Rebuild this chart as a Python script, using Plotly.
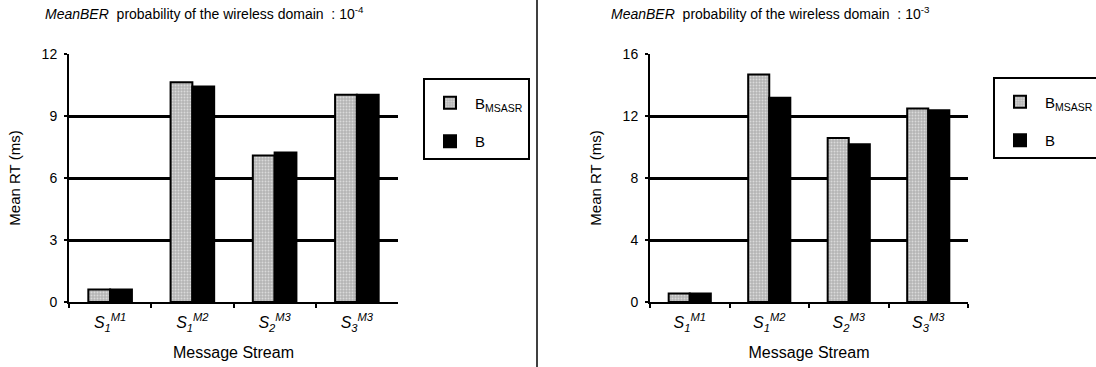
import plotly.graph_objects as go

# Message streams (categories) and their displayed tick labels
streams = ["S1M1", "S1M2", "S2M3", "S3M3"]
stream_labels = [
    "<i>S<sub>1</sub><sup>M1</sup></i>",
    "<i>S<sub>1</sub><sup>M2</sup></i>",
    "<i>S<sub>2</sub><sup>M3</sup></i>",
    "<i>S<sub>3</sub><sup>M3</sup></i>",
]

# Mean response time (ms), mean BER = 1e-4
rt_ber4_msasr = [0.6, 10.65, 7.1, 10.05]
rt_ber4_b = [0.6, 10.45, 7.25, 10.05]

# Mean response time (ms), mean BER = 1e-3
rt_ber3_msasr = [0.55, 14.7, 10.6, 12.5]
rt_ber3_b = [0.55, 13.2, 10.2, 12.4]

y_ticks_left = [0, 3, 6, 9, 12]
y_ticks_right = [0, 4, 8, 12, 16]

FONT = "Liberation Sans, Arial, sans-serif"
W, H = 1096, 367

gray_marker = dict(
    color="#bdbdbd",
    line=dict(color="black", width=2),
    pattern=dict(shape=".", fgcolor="#ffffff", bgcolor="#b4b4b4", size=3, solidity=0.35),
)
black_marker = dict(color="black", line=dict(color="black", width=2))

fig = go.Figure()

fig.add_trace(go.Bar(x=streams, y=rt_ber4_msasr, name="B<sub>MSASR</sub>",
                     marker=gray_marker, xaxis="x", yaxis="y", legend="legend",
                     legendgroup="l1"))
fig.add_trace(go.Bar(x=streams, y=rt_ber4_b, name="B",
                     marker=black_marker, xaxis="x", yaxis="y", legend="legend",
                     legendgroup="l2"))
fig.add_trace(go.Bar(x=streams, y=rt_ber3_msasr, name="B<sub>MSASR</sub>",
                     marker=gray_marker, xaxis="x2", yaxis="y2", legend="legend2",
                     legendgroup="r1"))
fig.add_trace(go.Bar(x=streams, y=rt_ber3_b, name="B",
                     marker=black_marker, xaxis="x2", yaxis="y2", legend="legend2",
                     legendgroup="r2"))

y_dom = [1 - 302 / H, 1 - 54 / H]

x_common = dict(
    type="category",
    tickvals=streams,
    ticktext=stream_labels,
    showline=True, linecolor="black", linewidth=2,
    ticks="outside", tickson="boundaries", ticklen=4, tickwidth=2, tickcolor="black",
    ticklabelstandoff=5,
    showgrid=False, zeroline=False,
    tickfont=dict(family=FONT, size=16, color="black"),
    title=dict(text="Message Stream", font=dict(family=FONT, size=16, color="black"),
               standoff=14),
)

y_common = dict(
    showline=True, linecolor="black", linewidth=2,
    showgrid=True, gridcolor="black", gridwidth=3,
    zeroline=False,
    ticks="outside", ticklen=3, tickwidth=2, tickcolor="black",
    ticklabelstandoff=4,
    tickfont=dict(family=FONT, size=14, color="black"),
    title=dict(text="Mean RT (ms)", font=dict(family=FONT, size=15, color="black"),
               standoff=17),
)

legend_common = dict(
    xanchor="left", yanchor="top",
    bordercolor="black", borderwidth=2, bgcolor="white",
    font=dict(family=FONT, size=15, color="black"),
    title=dict(text=" ", font=dict(size=5)),
    tracegroupgap=16, itemwidth=40,
)

fig.update_layout(
    width=W, height=H,
    margin=dict(l=0, r=0, t=0, b=0, autoexpand=False),
    paper_bgcolor="white", plot_bgcolor="white",
    barmode="group", bargap=0.47, bargroupgap=0,
    font=dict(family=FONT, color="black"),
    xaxis={**x_common, "domain": [69 / W, 398 / W], "anchor": "y"},
    yaxis={**y_common, "domain": y_dom, "anchor": "x",
           "range": [0, 12.02], "tickvals": y_ticks_left},
    xaxis2={**x_common, "domain": [650 / W, 968 / W], "anchor": "y2"},
    yaxis2={**y_common, "domain": y_dom, "anchor": "x2",
            "range": [0, 16.03], "tickvals": y_ticks_right},
    legend={**legend_common, "x": 423 / W, "y": 1 - 78 / H},
    legend2={**legend_common, "x": 993 / W, "y": 1 - 77 / H},
    showlegend=True,
)

# Panel captions
caption = "<i>MeanBER</i>  probability of the wireless domain  : 10<sup>{}</sup>"
fig.add_annotation(x=43 / W, y=1 - 13 / H, xref="paper", yref="paper",
                   xanchor="left", yanchor="middle", showarrow=False,
                   text=caption.format("-4"),
                   font=dict(family=FONT, size=14, color="black"))
fig.add_annotation(x=609 / W, y=1 - 13 / H, xref="paper", yref="paper",
                   xanchor="left", yanchor="middle", showarrow=False,
                   text=caption.format("-3"),
                   font=dict(family=FONT, size=14, color="black"))

# Vertical separator between the two panels
fig.add_shape(type="line", xref="paper", yref="paper",
              x0=537 / W, x1=537 / W, y0=0, y1=1,
              line=dict(color="black", width=1.5))

fig.write_html("out.html")
